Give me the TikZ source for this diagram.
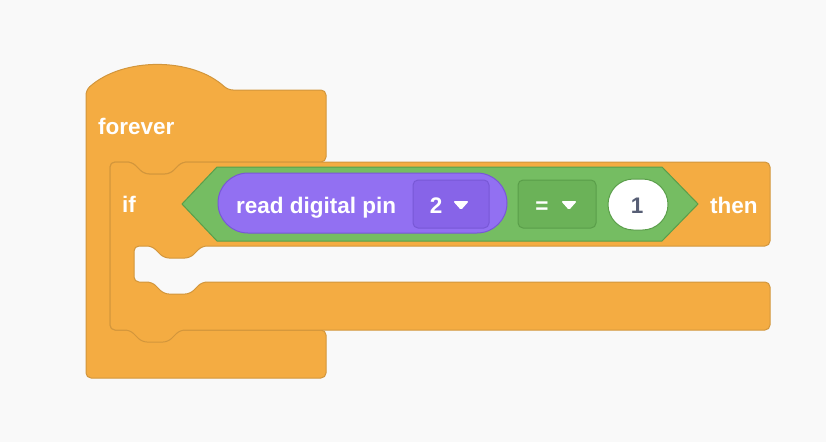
\documentclass[tikz,border=0pt]{standalone}
\usepackage{fontspec}
\setmainfont{Liberation Sans}

\definecolor{bgpage}{HTML}{F9F9F9}
\definecolor{ctrlfill}{HTML}{F4AC42}
\definecolor{ctrlline}{HTML}{D2963C}
\definecolor{opfill}{HTML}{75BD62}
\definecolor{opline}{HTML}{5A9E4A}
\definecolor{opmenu}{HTML}{6BB258}
\definecolor{pinfill}{HTML}{9270F2}
\definecolor{pinline}{HTML}{7858D6}
\definecolor{pinmenu}{HTML}{8764E8}
\definecolor{numtext}{HTML}{575E75}

\tikzset{
  ctrl/.style={fill=ctrlfill, draw=ctrlline, line width=1pt, rounded corners=5pt},
  % notch going right / going left, both dipping down by 12
  notchright/.style={insert path={-- (#1) -- ++(12,12) -- ++(26,0) -- ++(12,-12)}},
  notchleft/.style={insert path={-- (#1) -- ++(-12,12) -- ++(-26,0) -- ++(-12,-12)}},
  opblock/.style={fill=opfill, draw=opline, line width=1pt},
  sensor/.style={fill=pinfill, draw=pinline, line width=1pt},
  menubox/.style={line width=1pt, rounded corners=5pt},
  lbl/.style={text=white, font=\bfseries\fontsize{22.5}{26}\selectfont, inner sep=0pt, anchor=base west},
  caret/.style={fill=white, rounded corners=1.5pt}
}

\begin{document}
\begin{tikzpicture}[x=1pt, y=-1pt]
  \useasboundingbox[fill=bgpage] (0,0) rectangle (826,442);

  % forever (hat top, open mouth)
  \draw[ctrl] (86,200) -- (86,90) .. controls (123,57) and (192,57) .. (228,90)
    -- (326,90) -- (326,162) [notchleft={182,162}] -- (110,162)
    -- (110,330) -- (326,330) -- (326,378) -- (86,378) -- cycle;

  % if ... then
  \draw[ctrl] (110,200) -- (110,162) [notchright={132,162}] -- (770,162)
    -- (770,246) [notchleft={202,246}] -- (134,246)
    -- (134,282) [notchright={152,282}] -- (770,282)
    -- (770,330) [notchleft={180,330}] -- (110,330) -- cycle;

  % condition
  \draw[opblock] (182,204) -- (217,167) -- (662,167) -- (698,204)
    -- (662,241) -- (217,241) -- cycle;
  \draw[sensor, rounded corners=30pt] (218,173) rectangle (507,233);
  \draw[menubox, fill=pinmenu, draw=pinline] (413,180) rectangle (489,228);
  \draw[menubox, fill=opmenu, draw=opline] (518,180) rectangle (596,228);
  \draw[fill=white, draw=opline, line width=1pt, rounded corners=25.5pt] (608,179) rectangle (668,230);

  \node[lbl] (forever) at (98,134) {forever};
  \node[lbl] (if) at (122,212) {if};
  \node[lbl] (read) at (236,213) {read digital pin};
  \node[lbl, anchor=base] (pin) at (436,213) {2};
  \node[lbl, anchor=base] (op) at (542,213) {=};
  \node[lbl, anchor=base, text=numtext] (one) at (637,213) {1};
  \node[lbl] (then) at (710,213) {then};

  \foreach \x in {461,569}
    \fill[caret] ({\x-8},201) -- ({\x+8},201) -- (\x,210) -- cycle;
\end{tikzpicture}
\end{document}
